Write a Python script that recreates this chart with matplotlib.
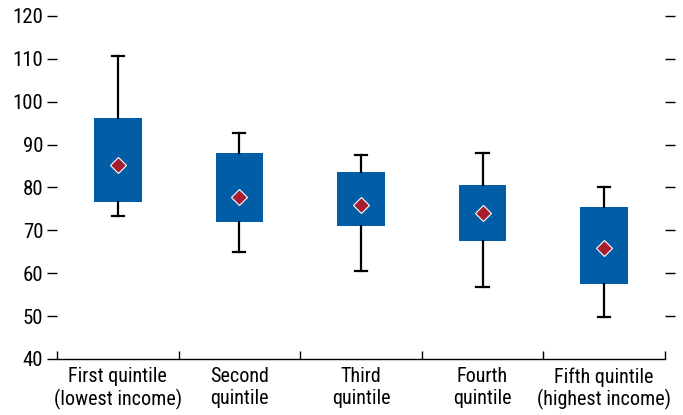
#!/usr/bin/env python3
import matplotlib
matplotlib.use("Agg")
import matplotlib.pyplot as plt
from matplotlib.ticker import FixedLocator

categories = ["First quintile\n(lowest income)", "Second\nquintile", "Third\nquintile",
              "Fourth\nquintile", "Fifth quintile\n(highest income)"]
whisker_low = [73.4, 65.0, 60.6, 56.9, 49.9]
box_low = [76.6, 71.9, 70.9, 67.4, 57.4]
box_high = [96.2, 88.0, 83.6, 80.6, 75.4]
whisker_high = [110.7, 92.7, 87.5, 88.0, 80.1]
means = [85.2, 77.8, 75.9, 74.0, 65.9]

plt.rcParams['font.family'] = ['Roboto Condensed', 'DejaVu Sans']

stats = []
for lo, q1, q3, hi, m in zip(whisker_low, box_low, box_high, whisker_high, means):
    stats.append({'whislo': lo, 'q1': q1, 'med': m, 'q3': q3, 'whishi': hi, 'mean': m})

fig = plt.figure(figsize=(6.83, 4.15), dpi=100)
ax = fig.add_axes([0.0835, 0.135, 0.89, 0.8265])

ax.bxp(stats, positions=range(1, 6), widths=0.39, patch_artist=True,
       showmeans=True, showfliers=False, capwidths=0.1,
       boxprops=dict(facecolor='#005DA6', edgecolor='none'),
       medianprops=dict(linewidth=0),
       whiskerprops=dict(color='black', linewidth=1.6),
       capprops=dict(color='black', linewidth=1.6),
       meanprops=dict(marker='D', markerfacecolor='#A61E2E', markeredgecolor='white',
                      markeredgewidth=0.8, markersize=8))

ax.set_xlim(0.5, 5.5)
ax.set_ylim(40, 120)
ax.set_yticks(range(40, 121, 10))
ax.set_xticks(range(1, 6))
ax.set_xticklabels(categories, fontsize=14.5, linespacing=1.15)
ax.xaxis.set_minor_locator(FixedLocator([0.5, 1.5, 2.5, 3.5, 4.5, 5.5]))
ax.tick_params(axis='x', which='major', length=0, pad=6)
ax.tick_params(axis='x', which='minor', direction='in', length=6, width=1)
ax.tick_params(axis='y', labelsize=15, length=7, width=1, right=True, labelright=False, pad=3)
ax.yaxis.get_major_ticks()[0].tick2line.set_visible(False)

for s in ['top', 'left', 'right']:
    ax.spines[s].set_visible(False)
ax.spines['bottom'].set_linewidth(1)

fig.savefig("out.png", dpi=100)
